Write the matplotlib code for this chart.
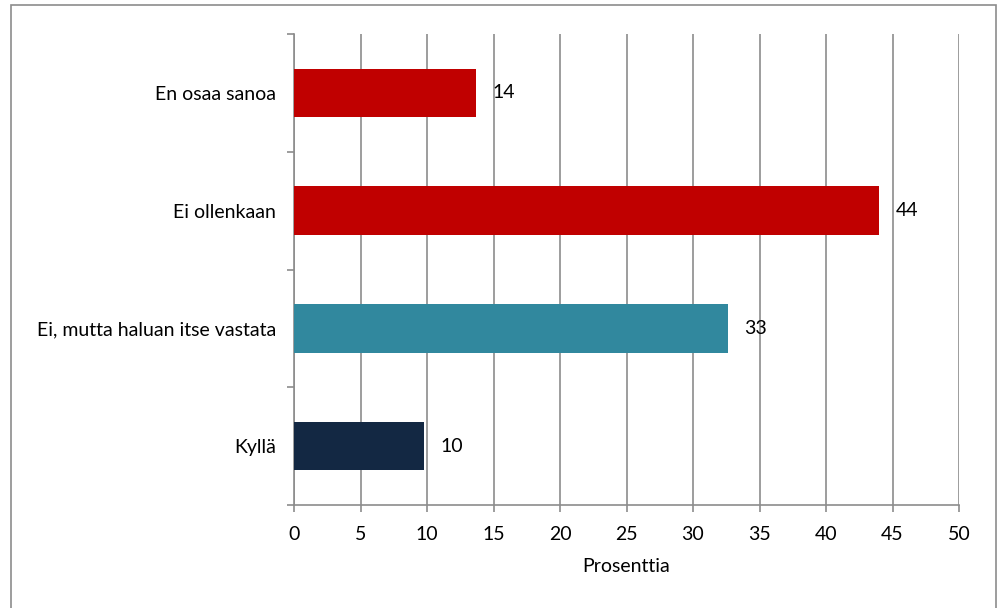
import matplotlib.pyplot as plt
from matplotlib.patches import Rectangle

# data, bottom to top
categories = ["Kyllä", "Ei, mutta haluan itse vastata", "Ei ollenkaan", "En osaa sanoa"]
values = [9.8, 32.6, 44.0, 13.7]
labels = ["10", "33", "44", "14"]
colors = ["#132843", "#31889E", "#C00000", "#C00000"]

plt.rcParams['font.family'] = ['Lato', 'DejaVu Sans']

W, H = 998, 608
fig = plt.figure(figsize=(W / 100, H / 100), dpi=100)
ax = fig.add_axes([294 / W, 1 - 505 / H, (959 - 294) / W, (505 - 34) / H])

grid_c = "#8c8c8c"
fs = 14
ypos = list(range(len(categories)))
ax.barh(ypos, values, height=0.41, color=colors, zorder=3)
for y, v, lab in zip(ypos, values, labels):
    ax.text(v + 1.25, y, lab, va="center", ha="left", fontsize=fs, color="black", zorder=4)

ax.set_xlim(0, 50)
ax.set_ylim(-0.5, len(categories) - 0.5)
ax.set_xticks(range(0, 51, 5))
ax.set_yticks(ypos)
ax.set_yticklabels(categories, fontsize=fs)
ax.set_yticks([y + 0.5 for y in range(-1, len(categories))], minor=True)
ax.tick_params(axis="y", which="major", length=0, pad=13)
ax.tick_params(axis="y", which="minor", length=5, color=grid_c, width=1.2)
ax.tick_params(axis="x", length=5, color=grid_c, width=1.2, labelsize=fs, pad=10)
ax.xaxis.grid(True, color=grid_c, linewidth=1.2, zorder=0)
ax.set_axisbelow(True)
for s in ["top", "right"]:
    ax.spines[s].set_visible(False)
for s in ["left", "bottom"]:
    ax.spines[s].set_color(grid_c)
    ax.spines[s].set_linewidth(1.2)
ax.set_xlabel("Prosenttia", fontsize=fs, labelpad=11)

# outer chart border
fig.patches.append(Rectangle((11 / W, -0.05), (996 - 11) / W, 1.05 - 5 / H,
                             transform=fig.transFigure, fill=False,
                             edgecolor="#8c8c8c", linewidth=1.2))

fig.savefig("out.png", dpi=100)
